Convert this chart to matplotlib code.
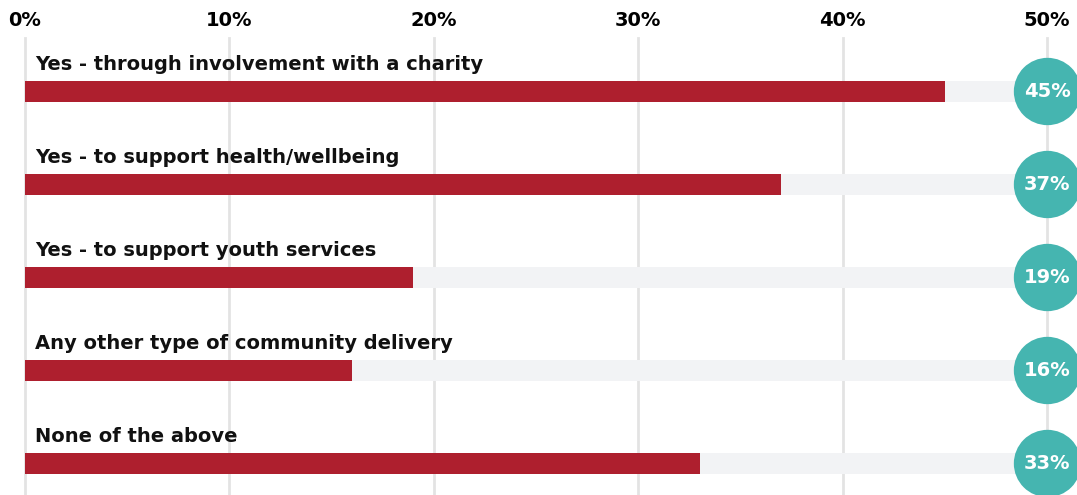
import matplotlib
matplotlib.use('Agg')
import matplotlib.pyplot as plt

plt.rcParams['font.family'] = ['DejaVu Sans']

# 数据
categories = [
    'Yes - through involvement with a charity',
    'Yes - to support health/wellbeing',
    'Yes - to support youth services',
    'Any other type of community delivery',
    'None of the above',
]
values = [45, 37, 19, 16, 33]
x_max = 50
x_ticks = [0, 10, 20, 30, 40, 50]

bar_color = '#AE1F2E'
track_color = '#F2F3F5'
circle_color = '#45B5B0'
grid_color = '#E3E3E3'

W, H = 1077, 495
fig = plt.figure(figsize=(W / 100, H / 100), dpi=100)
ax = fig.add_axes([25 / W, 0, 1022 / W, (H - 38) / H])

ys = list(range(len(categories)))
bar_h = 0.226

# 背景轨道 + 红色条
ax.barh(ys, [x_max] * len(ys), height=bar_h, color=track_color, zorder=1)
ax.barh(ys, values, height=bar_h, color=bar_color, zorder=2)

# 竖向网格线
for t in x_ticks:
    ax.axvline(t, color=grid_color, lw=2, zorder=0, clip_on=False)

# 类别标签
for y, name in zip(ys, categories):
    ax.text(0.5, y - 0.29, name, ha='left', va='center', fontsize=14,
            fontweight='semibold', color='#111111', zorder=3)

# 右侧圆形数值
ax.scatter([x_max] * len(ys), ys, s=2350, color=circle_color, zorder=4,
           clip_on=False, linewidths=0)
for y, v in zip(ys, values):
    ax.text(x_max, y, f'{v}%', ha='center', va='center', fontsize=14,
            fontweight='bold', color='white', zorder=5, clip_on=False)

ax.set_xlim(0, x_max)
ax.set_ylim(4.339, -0.575)
ax.xaxis.tick_top()
ax.set_xticks(x_ticks)
ax.set_xticklabels([f'{t}%' for t in x_ticks], fontsize=14, fontweight='bold')
ax.tick_params(axis='x', length=0, pad=6)
ax.set_yticks([])
for s in ax.spines.values():
    s.set_visible(False)

fig.savefig('out.png', dpi=100)
